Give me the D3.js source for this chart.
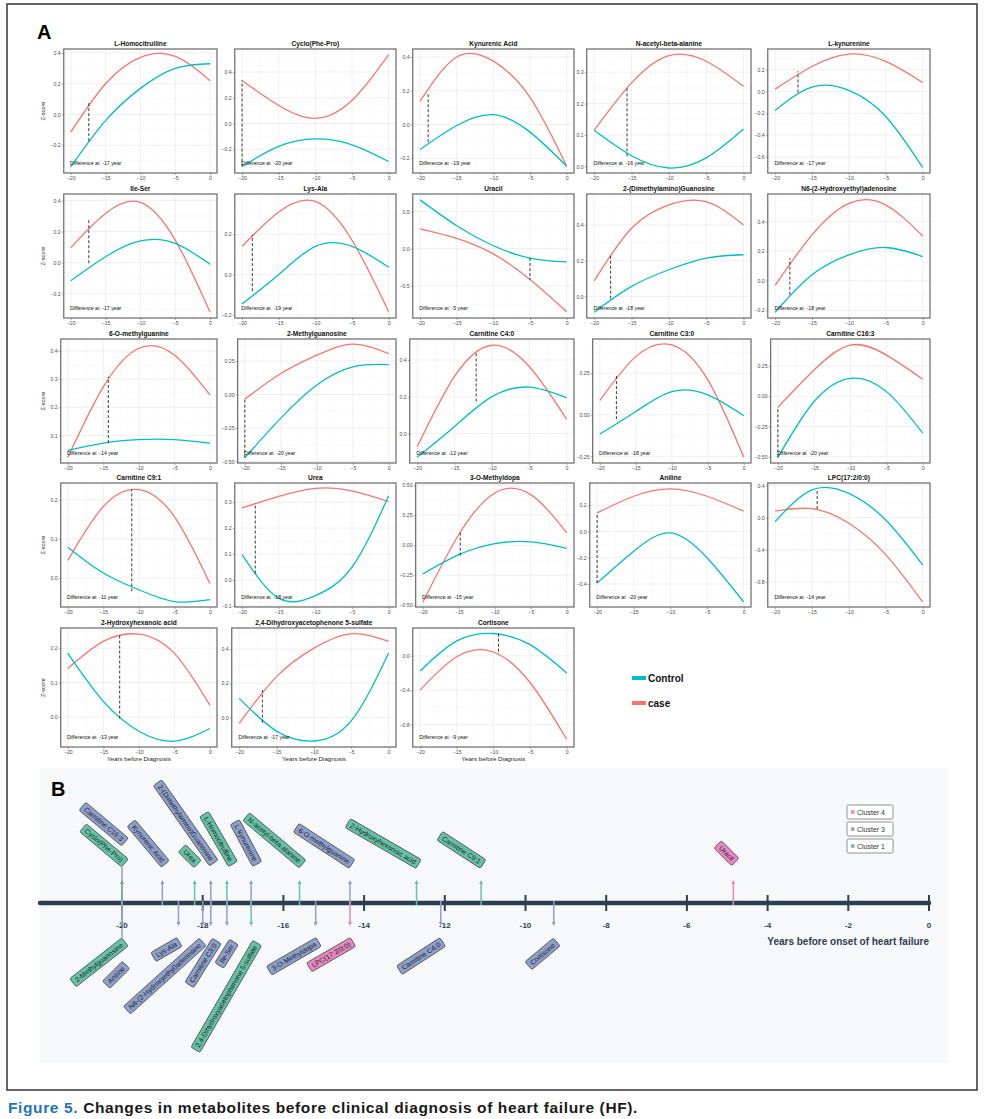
<!DOCTYPE html>
<html>
<head>
<meta charset="utf-8">
<script src="https://cdn.jsdelivr.net/npm/d3@7"></script>
<style>
  body { margin: 0; background: #fff; }
  svg { display: block; font-family: "Liberation Sans", Arial, sans-serif; }
</style>
</head>
<body>
<svg id="fig" width="987" height="1119"></svg>
<script>
// ---------- Panel A data ----------
const panelTitles = [
    "L-Homocitrulline", "Cyclo(Phe-Pro)", "Kynurenic Acid", "N-acetyl-beta-alanine", "L-kynurenine",
    "Ile-Ser", "Lys-Ala", "Uracil", "2-(Dimethylamino)Guanosine", "N6-(2-Hydroxyethyl)adenosine",
    "6-O-methylguanine", "2-Methylguanosine", "Carnitine C4:0", "Carnitine C3:0", "Carnitine C16:3",
    "Carnitine C9:1", "Urea", "3-O-Methyldopa", "Aniline", "LPC(17:2/0:0)",
    "2-Hydroxyhexanoic acid", "2,4-Dihydroxyacetophenone 5-sulfate", "Cortisone"
];
const sampleYears = [-20, -15, -10, -5, 0];
const xTickValues = [-20, -15, -10, -5, 0];

const caseValues = [
    [-0.115, 0.20, 0.372, 0.378, 0.22],
    [0.334, 0.14, 0.04, 0.18, 0.535],
    [0.138, 0.40, 0.375, 0.16, -0.247],
    [0.115, 0.266, 0.353, 0.335, 0.255],
    [0.021, 0.229, 0.342, 0.275, 0.082],
    [0.096, 0.316, 0.387, 0.145, -0.318],
    [0.14, 0.31, 0.362, 0.17, -0.184],
    [0.269, 0.14, -0.07, -0.417, -0.852],
    [0.087, 0.381, 0.512, 0.53, 0.40],
    [-0.031, 0.31, 0.524, 0.512, 0.303],
    [0.022, 0.273, 0.41, 0.386, 0.244],
    [-0.035, 0.156, 0.293, 0.375, 0.305],
    [-0.074, 0.31, 0.48, 0.364, 0.078],
    [0.086, 0.35, 0.42, 0.21, -0.256],
    [-0.091, 0.217, 0.423, 0.34, 0.14],
    [0.045, 0.183, 0.226, 0.157, -0.014],
    [0.278, 0.322, 0.353, 0.344, 0.302],
    [-0.475, 0.09, 0.436, 0.422, 0.103],
    [0.142, 0.269, 0.325, 0.269, 0.155],
    [0.08, 0.11, -0.07, -0.46, -1.047],
    [0.141, 0.22, 0.241, 0.185, 0.034],
    [-0.035, 0.239, 0.406, 0.49, 0.445],
    [-0.398, -0.01, 0.045, -0.31, -0.97]
];
const controlValues = [
    [-0.34, -0.04, 0.17, 0.30, 0.33],
    [-0.334, -0.178, -0.12, -0.165, -0.295],
    [-0.148, -0.006, 0.058, -0.045, -0.247],
    [0.115, 0.034, -0.005, 0.027, 0.119],
    [-0.174, 0.04, 0.01, -0.229, -0.696],
    [-0.117, 0.038, 0.139, 0.124, -0.011],
    [-0.145, 0.0, 0.14, 0.14, 0.036],
    [0.659, 0.31, 0.04, -0.126, -0.179],
    [-0.089, 0.056, 0.149, 0.214, 0.233],
    [-0.213, 0.04, 0.175, 0.225, 0.164],
    [0.047, 0.073, 0.085, 0.085, 0.073],
    [-0.472, -0.177, 0.07, 0.206, 0.223],
    [-0.13, 0.038, 0.2, 0.252, 0.195],
    [-0.116, 0.02, 0.14, 0.12, -0.006],
    [-0.505, -0.044, 0.148, 0.038, -0.305],
    [0.079, 0.013, -0.03, -0.06, -0.055],
    [0.098, -0.07, -0.06, 0.05, 0.325],
    [-0.239, -0.078, 0.014, 0.028, -0.025],
    [-0.392, -0.15, -0.01, -0.2, -0.537],
    [-0.05, 0.344, 0.30, -0.03, -0.587],
    [0.185, 0.045, -0.042, -0.071, -0.034],
    [0.112, -0.08, -0.138, -0.02, 0.376],
    [-0.176, 0.174, 0.26, 0.13, -0.2]
];
const yTickValues = [
    [-0.2, 0, 0.2, 0.4], [-0.2, 0, 0.2, 0.4], [-0.2, 0, 0.2, 0.4], [0, 0.1, 0.2, 0.3], [-0.6, -0.4, -0.2, 0, 0.2],
    [-0.2, 0, 0.2, 0.4], [-0.2, 0, 0.2], [-0.5, 0, 0.5], [0, 0.2, 0.4], [-0.2, 0, 0.2, 0.4],
    [0.1, 0.2, 0.3, 0.4], [-0.5, -0.25, 0, 0.25], [0, 0.2, 0.4], [-0.25, 0, 0.25], [-0.5, -0.25, 0, 0.25],
    [0, 0.1, 0.2], [-0.1, 0, 0.1, 0.2, 0.3], [-0.5, -0.25, 0, 0.25, 0.5], [-0.4, -0.2, 0, 0.2], [-0.8, -0.4, 0, 0.4],
    [0, 0.1, 0.2], [0, 0.2, 0.4], [-0.8, -0.4, 0]
];
const yTickDigits = [1, 1, 1, 1, 1, 1, 1, 1, 1, 1, 1, 2, 1, 2, 2, 1, 1, 2, 1, 1, 1, 1, 1];
const yRanges = [
    [-0.38, 0.426], [-0.384, 0.578], [-0.287, 0.447], [-0.021, 0.374], [-0.747, 0.389],
    [-0.356, 0.441], [-0.215, 0.399], [-0.935, 0.738], [-0.121, 0.573], [-0.252, 0.587],
    [0.002, 0.443], [-0.512, 0.414], [-0.161, 0.514], [-0.29, 0.456], [-0.552, 0.473],
    [-0.074, 0.243], [-0.104, 0.374], [-0.514, 0.519], [-0.575, 0.37], [-1.11, 0.429],
    [-0.088, 0.259], [-0.173, 0.524], [-1.06, 0.324]
];
const diffYears = [-17.4, -20, -18.9, -15.6, -16.9, -17.4, -18.6, -5, -17.8, -18, -14.3, -20, -12.1, -17.7, -20,
    -11, -18.2, -14.8, -20, -14.3, -12.7, -16.9, -9.3];
const diffLabelYears = [-17, -20, -19, -16, -17, -17, -19, -5, -18, -18, -14, -20, -12, -18, -20,
    -11, -18, -15, -20, -14, -13, -17, -9];
const diffCaseValues = [0.076, 0.334, 0.19, 0.255, 0.185, 0.273, 0.197, -0.417, 0.227, 0.153, 0.309, -0.035, 0.445, 0.24, -0.091,
    0.227, 0.296, 0.11, 0.142, 0.10, 0.239, 0.161, 0.02];
const diffControlValues = [-0.173, -0.334, -0.105, 0.032, -0.009, -0.004, -0.082, -0.126, -0.013, -0.094, 0.073, -0.472, 0.174, -0.026, -0.505,
    -0.034, 0.025, -0.086, -0.392, 0.33, -0.005, -0.03, 0.258];
const seriesNames = ["Control", "case"];

// ---------- Panel B data ----------
const timelineNames = [
    "Cyclo(Phe-Pro)", "Carnitine C16:3", "Kynurenic Acid", "Urea", "2-(Dimethylamino)Guanosine",
    "L-Homocitrulline", "L-kynurenine", "N-acetyl-beta-alanine", "6-O-methylguanine",
    "2-Hydroxyhexanoic acid", "Carnitine C9:1", "Uracil",
    "2-Methylguanosine", "Aniline", "Lys-Ala", "N6-(2-Hydroxyethyl)adenosine", "Carnitine C3:0",
    "Ile-Ser", "2,4-Dihydroxyacetophenone 5-sulfate", "3-O-Methyldopa", "LPC(17:2/0:0)",
    "Carnitine C4:0", "Cortisone"
];
const timelineYears = [-20, -20, -19.0, -18.2, -17.8, -17.4, -16.8, -15.6, -14.35, -12.7, -11.1, -4.85,
    -20, -20, -18.6, -18.0, -17.8, -17.4, -16.8, -15.2, -14.35, -12.1, -9.3];
const timelineClusters = [1, 3, 3, 1, 3, 1, 3, 1, 3, 1, 1, 4,
    1, 3, 3, 3, 3, 3, 1, 3, 4, 3, 3];
const timelineSides = ["up", "up", "up", "up", "up", "up", "up", "up", "up", "up", "up", "up",
    "down", "down", "down", "down", "down", "down", "down", "down", "down", "down", "down"];
const timelineTicks = [-20, -18, -16, -14, -12, -10, -8, -6, -4, -2, 0];
const legendClusters = [4, 3, 1];

// ---------- layout and style ----------
const colorCase = "#F8766D", colorControl = "#00BFC4";
const clusterColor = { 1: "#66c2a5", 3: "#8da0cb", 4: "#e78ac3" };
const cellLeft = [50, 221, 399, 576, 754];
const plotRight = [217, 396, 574, 751, 930];
const rowTop = [49, 194, 339, 483, 628];
const rowHeight = [124, 124, 124, 124, 119];
const xDomain = [-21, 1];

// label box placement: [dx from stem, dy from axis, rotation]
const labelLayout = {
    "Cyclo(Phe-Pro)": [3, -40, 40],
    "Carnitine C16:3": [3, -61, 40],
    "Kynurenic Acid": [3, -39, 50],
    "Urea": [3, -39, 45],
    "2-(Dimethylamino)Guanosine": [3, -40, 55],
    "L-Homocitrulline": [6, -39, 60],
    "L-kynurenine": [6, -39, 62],
    "N-acetyl-beta-alanine": [3, -39, 40],
    "6-O-methylguanine": [2, -39, 33],
    "2-Hydroxyhexanoic acid": [2, -39, 30],
    "Carnitine C9:1": [2, -39, 33],
    "Uracil": [2, -41, 45],
    "2-Methylguanosine": [3, 39, -38],
    "Aniline": [4, 62, -45],
    "Lys-Ala": [1, 39, -30],
    "N6-(2-Hydroxyethyl)adenosine": [0, 39, -42],
    "Carnitine C3:0": [6, 38, -58],
    "Ile-Ser": [7, 39, -58],
    "2,4-Dihydroxyacetophenone 5-sulfate": [6, 40, -60],
    "3-O-Methyldopa": [3, 39, -30],
    "LPC(17:2/0:0)": [3, 39, -30],
    "Carnitine C4:0": [2, 39, -33],
    "Cortisone": [3, 39, -40]
};

const svg = d3.select("#fig");
const measurer = svg.append("text").attr("x", -999).attr("y", -999);

function textWidth(str, size, weight) {
    measurer.attr("font-size", size).attr("font-weight", weight || "normal").text(str);
    return measurer.node().getComputedTextLength();
}

// outer frame
svg.append("rect")
    .attr("x", 7).attr("y", 4).attr("width", 970).attr("height", 1086)
    .attr("fill", "none").attr("stroke", "#333").attr("stroke-width", 1.5);

svg.append("text").attr("x", 37).attr("y", 39)
    .attr("font-size", 20).attr("font-weight", "bold").text("A");

/**
 * Draw one small multiple of panel A
 * @param {Number} i index of the metabolite
 */
function drawPanel(i) {
    const col = i % 5, row = Math.floor(i / 5);
    const fmt = d3.format("." + yTickDigits[i] + "f");
    const labelW = d3.max(yTickValues[i], (v) => textWidth(fmt(v), 5.2));
    const x0 = cellLeft[col] + labelW + 3.5, x1 = plotRight[col];
    const y0 = rowTop[row], y1 = y0 + rowHeight[row];
    const x = d3.scaleLinear().domain(xDomain).range([x0, x1]);
    const y = d3.scaleLinear().domain(yRanges[i]).range([y1, y0]);
    const g = svg.append("g");

    // minor + major grid
    const yt = yTickValues[i], step = yt[1] - yt[0];
    const yMinor = [];
    for (let v = yt[0] - step / 2; v < yRanges[i][1]; v += step) {
        if (v > yRanges[i][0]) yMinor.push(v);
    }
    const xMinor = [-17.5, -12.5, -7.5, -2.5];
    g.selectAll(".ymin").data(yMinor).enter().append("line")
        .attr("x1", x0).attr("x2", x1).attr("y1", (d) => y(d)).attr("y2", (d) => y(d))
        .attr("stroke", "#f2f2f2").attr("stroke-width", 0.4);
    g.selectAll(".xmin").data(xMinor).enter().append("line")
        .attr("y1", y0).attr("y2", y1).attr("x1", (d) => x(d)).attr("x2", (d) => x(d))
        .attr("stroke", "#f2f2f2").attr("stroke-width", 0.4);
    g.selectAll(".ymaj").data(yt).enter().append("line")
        .attr("x1", x0).attr("x2", x1).attr("y1", (d) => y(d)).attr("y2", (d) => y(d))
        .attr("stroke", "#e6e6e6").attr("stroke-width", 0.6);
    g.selectAll(".xmaj").data(xTickValues).enter().append("line")
        .attr("y1", y0).attr("y2", y1).attr("x1", (d) => x(d)).attr("x2", (d) => x(d))
        .attr("stroke", "#e6e6e6").attr("stroke-width", 0.6);

    // axes
    const ax = g.append("g").attr("transform", `translate(0,${y1})`)
        .call(d3.axisBottom(x).tickValues(xTickValues).tickSize(2).tickPadding(1.5));
    const ay = g.append("g").attr("transform", `translate(${x0},0)`)
        .call(d3.axisLeft(y).tickValues(yt).tickFormat(fmt).tickSize(2).tickPadding(1));
    [ax, ay].forEach((a) => {
        a.select(".domain").remove();
        a.attr("font-family", null).attr("font-size", null);
        a.selectAll("line").attr("stroke", "#555").attr("stroke-width", 0.5);
        a.selectAll("text").attr("font-size", 5.2).attr("fill", "#4d4d4d");
    });

    // curves
    const line = d3.line()
        .x((d, j) => x(sampleYears[j]))
        .y((d) => y(d))
        .curve(d3.curveNatural);
    g.append("path").attr("d", line(caseValues[i]))
        .attr("fill", "none").attr("stroke", colorCase).attr("stroke-width", 1.3);
    g.append("path").attr("d", line(controlValues[i]))
        .attr("fill", "none").attr("stroke", colorControl).attr("stroke-width", 1.3);

    // difference marker
    g.append("line")
        .attr("x1", x(diffYears[i])).attr("x2", x(diffYears[i]))
        .attr("y1", y(diffControlValues[i])).attr("y2", y(diffCaseValues[i]))
        .attr("stroke", "#222").attr("stroke-width", 0.9).attr("stroke-dasharray", "3,2");
    g.append("text")
        .attr("x", x(-20.1)).attr("y", y1 - 8)
        .attr("font-size", 5.2).attr("fill", "#111").style("white-space", "pre")
        .text(`Difference at  ${diffLabelYears[i]} year`);

    // border and title
    g.append("rect").attr("x", x0).attr("y", y0).attr("width", x1 - x0).attr("height", y1 - y0)
        .attr("fill", "none").attr("stroke", "#737373").attr("stroke-width", 1.3);
    g.append("text").attr("x", (x0 + x1) / 2).attr("y", y0 - 3.5)
        .attr("text-anchor", "middle").attr("font-size", 6.6).attr("font-weight", "bold")
        .attr("fill", "#111").text(panelTitles[i]);

    if (col === 0) {
        g.append("text")
            .attr("transform", `translate(45,${(y0 + y1) / 2}) rotate(-90)`)
            .attr("text-anchor", "middle").attr("font-size", 5.6).attr("fill", "#222")
            .text("Z-score");
    }
    if (row === 4) {
        g.append("text").attr("x", (x0 + x1) / 2).attr("y", y1 + 14)
            .attr("text-anchor", "middle").attr("font-size", 6.2).attr("fill", "#222")
            .text("Years before Diagnosis");
    }
}

panelTitles.forEach((d, i) => drawPanel(i));

// legend for panel A
const legA = svg.append("g").attr("transform", "translate(632,678)");
seriesNames.forEach((name, k) => {
    legA.append("line").attr("x1", 0).attr("x2", 14).attr("y1", k * 25).attr("y2", k * 25)
        .attr("stroke", k === 0 ? colorControl : colorCase).attr("stroke-width", 4);
    legA.append("text").attr("x", 16).attr("y", k * 25 + 3.6)
        .attr("font-size", 10).attr("font-weight", "bold").attr("fill", "#111").text(name);
});

// ---------- Panel B ----------
const gB = svg.append("g");
gB.append("rect").attr("x", 40).attr("y", 768).attr("width", 908).attr("height", 295).attr("fill", "#f7f8fa");
gB.append("text").attr("x", 51).attr("y", 796).attr("font-size", 20).attr("font-weight", "bold").text("B");

const tx = d3.scaleLinear().domain([-20, 0]).range([122, 929]);
const axisY = 903;
const axisColor = "#2c3e50";

// leader through the -20 labels
gB.append("line").attr("x1", tx(-20)).attr("x2", tx(-20)).attr("y1", axisY - 36).attr("y2", axisY + 35)
    .attr("stroke", clusterColor[3]).attr("stroke-width", 1.5);

gB.append("line").attr("x1", 40).attr("x2", tx(0)).attr("y1", axisY).attr("y2", axisY)
    .attr("stroke", axisColor).attr("stroke-width", 4.5).attr("stroke-linecap", "round");
gB.selectAll(".tk").data(timelineTicks).enter().append("line")
    .attr("x1", (d) => tx(d)).attr("x2", (d) => tx(d)).attr("y1", axisY - 8).attr("y2", axisY + 8)
    .attr("stroke", axisColor).attr("stroke-width", 2);
gB.selectAll(".tl").data(timelineTicks).enter().append("text")
    .attr("x", (d) => tx(d)).attr("y", axisY + 25)
    .attr("text-anchor", "middle").attr("font-size", 8).attr("font-weight", "bold")
    .attr("fill", axisColor).text((d) => d);
gB.append("text").attr("x", tx(0)).attr("y", axisY + 42)
    .attr("text-anchor", "end").attr("font-size", 10).attr("font-weight", "bold")
    .attr("fill", axisColor).text("Years before onset of heart failure");

timelineNames.forEach((name, k) => {
    const sx = tx(timelineYears[k]);
    const up = timelineSides[k] === "up";
    const dir = up ? -1 : 1;
    const color = clusterColor[timelineClusters[k]];
    const tipY = axisY + dir * 23;
    gB.append("line").attr("x1", sx).attr("x2", sx).attr("y1", axisY - dir * 2).attr("y2", tipY - dir * 2)
        .attr("stroke", color).attr("stroke-width", 1.5);
    gB.append("path")
        .attr("d", `M${sx - 2},${tipY - dir * 4}L${sx},${tipY}L${sx + 2},${tipY - dir * 4}Z`)
        .attr("fill", color);

    const [dx, dy, angle] = labelLayout[name];
    const lab = gB.append("g").attr("transform", `translate(${sx + dx},${axisY + dy}) rotate(${angle})`);
    const w = textWidth(name, 7) + 7;
    lab.append("rect").attr("x", -w).attr("y", -5.2).attr("width", w).attr("height", 10.4).attr("rx", 1.8)
        .attr("fill", color).attr("stroke", "#3a3a3a").attr("stroke-width", 0.7);
    lab.append("text").attr("x", -w / 2).attr("y", 0).attr("dy", "0.35em")
        .attr("text-anchor", "middle").attr("font-size", 7).attr("fill", "#222").text(name);
});

// cluster legend
legendClusters.forEach((c, k) => {
    const ly = 805 + k * 17;
    gB.append("rect").attr("x", 847).attr("y", ly).attr("width", 46).attr("height", 14).attr("rx", 1.5)
        .attr("fill", "#fff").attr("stroke", "#777").attr("stroke-width", 0.8);
    gB.append("rect").attr("x", 851).attr("y", ly + 5.3).attr("width", 3.5).attr("height", 3.5)
        .attr("fill", clusterColor[c]);
    gB.append("text").attr("x", 857).attr("y", ly + 9.6).attr("font-size", 7).attr("fill", "#333")
        .text("Cluster " + c);
});

// caption, spaced out a little to span the same width as in the figure
const capLead = "Figure 5.";
const capText = " Changes in metabolites before clinical diagnosis of heart failure (HF).";
const capSize = 15.5;
const capW = textWidth(capLead + capText, capSize, "bold");
const capSpacing = Math.max(0, (630 - capW) / (capLead + capText).length);
const cap = svg.append("text").attr("x", 8).attr("y", 1113)
    .attr("font-weight", "bold").attr("font-size", capSize).attr("letter-spacing", capSpacing);
cap.append("tspan").attr("fill", "#1d74b7").text(capLead);
cap.append("tspan").attr("fill", "#1a1a1a").text(capText);

measurer.remove();
</script>
</body>
</html>
